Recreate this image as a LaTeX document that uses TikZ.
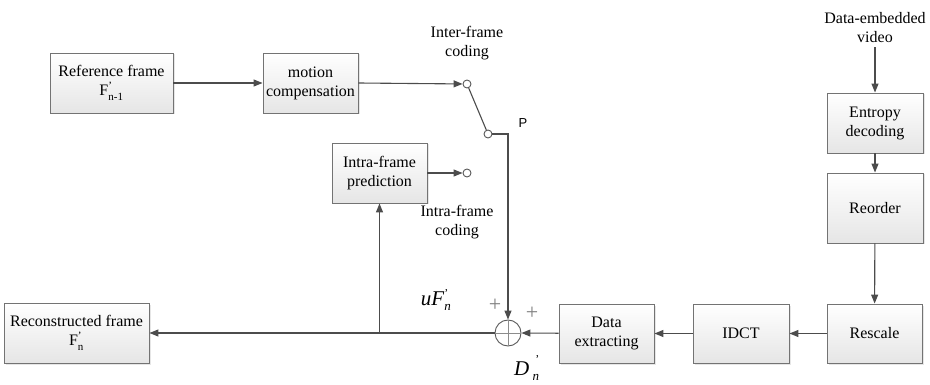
\documentclass[tikz,border=0pt]{standalone}
\usepackage{amsmath}
\usepackage{fontspec}
\setmainfont{Liberation Serif}
\newfontfamily\labelsans{Liberation Sans}
\usetikzlibrary{arrows.meta,shadows}

\begin{document}
\begin{tikzpicture}[x=1pt,y=-1pt,auto,line width=1.1pt,
    every node/.style={font=\fontsize{16}{19}\selectfont},
    box/.style={draw=black!55,line width=0.9pt,top color=white,bottom color=black!10,
      align=center,inner sep=0pt,drop shadow={opacity=0.2,shadow xshift=1.5pt,shadow yshift=-1.5pt}},
    term/.style={circle,draw=black!65,fill=white,line width=0.9pt,minimum size=8pt,inner sep=0pt},
    ->/.style={draw=black!70,-{Triangle[length=9pt,width=7pt]}},
    line/.style={draw=black!70}]
      \useasboundingbox (0,0) rectangle (930,385);

      \node[box,minimum width=123pt,minimum height=60pt] (ref) at (111.5,83) {Reference frame\\F$^{\text{'}}_{\text{\fontsize{11}{12}\selectfont n-1}}$};
      \node[box,minimum width=95pt,minimum height=60pt] (mc) at (310.5,83) {motion\\compensation};
      \node[box,minimum width=95pt,minimum height=60pt] (intra) at (379.5,173) {Intra-frame\\prediction};
      \node[box,minimum width=145pt,minimum height=60pt] (recon) at (76.5,333) {Reconstructed frame\\F$^{\text{'}}_{\text{\fontsize{11}{12}\selectfont n}}$};
      \node[box,minimum width=95pt,minimum height=59pt] (dext) at (606.5,333.5) {Data\\extracting};
      \node[box,minimum width=96pt,minimum height=59pt] (idct) at (741,333.5) {IDCT};
      \node[box,minimum width=95pt,minimum height=59pt] (resc) at (874.5,333.5) {Rescale};
      \node[box,minimum width=96pt,minimum height=60pt] (entr) at (875,123) {Entropy\\decoding};
      \node[box,minimum width=96pt,minimum height=70pt] (reord) at (875,208) {Reorder};

      \node[term] (inter) at (467,84) {}; \node[term] (pole) at (488,134) {};
      \node[term] (intrat) at (467,173) {};
      \node[circle,draw=black!65,line width=0.9pt,minimum size=26pt,inner sep=0pt] (sum) at (508,333) {};
      \draw[line,line width=0.7pt,draw=black!45] (sum.north) -- (sum.south) (sum.west) -- (sum.east);

      \node[align=center] (video) at (875,28) {Data-embedded\\video};
      \node[align=center] (intertxt) at (467,43) {Inter-frame\\coding};
      \node[align=center] (intratxt) at (457,222) {Intra-frame\\coding};
      \node (p) at (523,123) {\labelsans\fontsize{13}{15}\selectfont P};
      \node[inner sep=0pt] (uf) at (436,300) {\fontsize{21}{24}\selectfont\textit{uF}$_{\text{\textit{\fontsize{13}{14}\selectfont n}}}^{\text{\fontsize{12}{14}\selectfont '}}$};
      \node[inner sep=0pt] (dn) at (527,368) {\fontsize{21}{24}\selectfont\textit{D}$_{\text{\textit{\fontsize{13}{14}\selectfont ~n}}}^{\raisebox{4pt}{\text{\fontsize{12}{14}\selectfont ~~'}}}$};
      \node[inner sep=0pt,text=black!50] (plusl) at (495,305) {\fontsize{22}{24}\selectfont +};
      \node[inner sep=0pt,text=black!50] (plusr) at (532,313) {\fontsize{22}{24}\selectfont +};
      \coordinate (tap) at (intra.south |- sum.west);

      \draw[->] (ref) to (mc); \draw[->] (mc.east) to (inter);
      \draw[line] (inter) -- (pole); \draw[->] (pole) -- (sum.north |- pole) -- (sum.north);
      \draw[->] (intra.east |- intrat) to (intrat);
      \draw[->] (video.south) to (entr); \draw[->] (entr) to (reord); \draw[->] (reord) to (resc);
      \draw[->] (resc) to (idct); \draw[->] (idct) to (dext); \draw[->] (dext) to (sum.east);
      \draw[->] (sum.west) to (recon.east); \draw[->] (tap) to (intra.south);
    \end{tikzpicture}
\end{document}
